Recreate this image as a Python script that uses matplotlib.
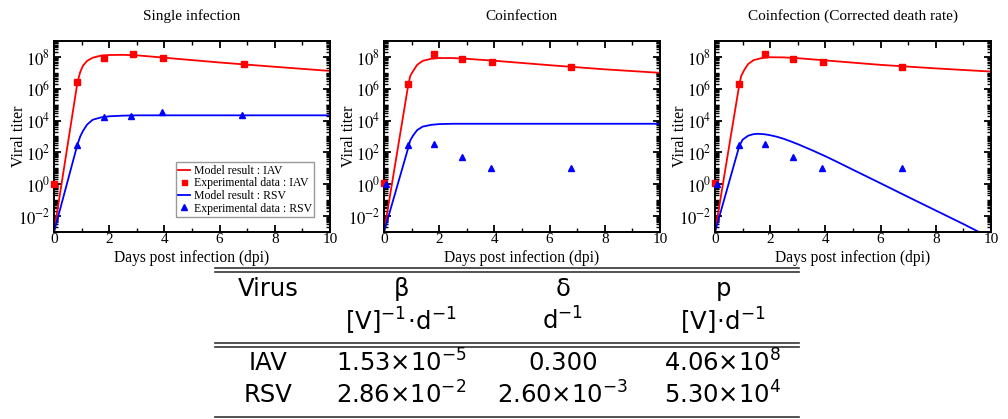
import numpy as np
import matplotlib
matplotlib.use("Agg")
import matplotlib.pyplot as plt
from matplotlib.ticker import LogLocator, FixedLocator, NullFormatter, FuncFormatter, MultipleLocator
from matplotlib.lines import Line2D

plt.rcParams['font.family'] = ['Liberation Serif', 'DejaVu Serif']
plt.rcParams['mathtext.fontset'] = 'stix'

# ---------------- data (log10 of viral titer) ----------------
titles = ["Single infection", "Coinfection", "Coinfection (Corrected death rate)"]

# Single infection
s_iav_model_t = [0, 0.85, 0.95, 1.05, 1.2, 1.4, 1.7, 2.0, 2.5, 3, 4, 6, 8, 10]
s_iav_model_log = [-3, 6.4, 7.05, 7.45, 7.75, 7.95, 8.08, 8.12, 8.13, 8.1, 7.95, 7.65, 7.38, 7.12]
s_rsv_model_t = [0, 0.85, 0.95, 1.05, 1.2, 1.4, 1.7, 2.0, 2.5, 3, 10]
s_rsv_model_log = [-3, 2.5, 3.0, 3.35, 3.75, 4.05, 4.2, 4.27, 4.31, 4.33, 4.33]
s_iav_data_t = [0, 0.85, 1.82, 2.86, 3.95, 6.88]
s_iav_data_log = [0, 6.44, 7.94, 8.21, 7.94, 7.53]
s_rsv_data_t = [0.85, 1.8, 2.8, 3.9, 6.8]
s_rsv_data_log = [2.49, 4.22, 4.30, 4.51, 4.32]

# Coinfection
c_iav_model_t = [0, 0.88, 0.95, 1.05, 1.2, 1.4, 1.7, 2.0, 2.5, 3, 4, 6, 8, 10]
c_iav_model_log = [-3, 6.25, 6.8, 7.1, 7.5, 7.75, 7.88, 7.93, 7.93, 7.88, 7.76, 7.48, 7.22, 7.0]
c_rsv_model_t = [0, 0.88, 0.95, 1.05, 1.2, 1.4, 1.7, 2.0, 2.5, 3, 10]
c_rsv_model_log = [-3, 2.3, 2.75, 3.05, 3.4, 3.62, 3.73, 3.78, 3.8, 3.8, 3.8]

# Coinfection (corrected death rate)
k_iav_model_t = [0, 0.88, 0.95, 1.05, 1.2, 1.4, 1.7, 2.0, 2.5, 3, 4, 6, 8, 10]
k_iav_model_log = [-3, 6.25, 6.8, 7.15, 7.55, 7.8, 7.93, 7.98, 7.97, 7.92, 7.78, 7.5, 7.28, 7.08]
k_rsv_model_t = [0, 0.88, 1.0, 1.2, 1.4, 1.55, 1.8, 2.0, 2.25, 2.5, 2.75, 3, 3.5, 4, 4.5, 5, 6, 7, 8, 9, 9.6]
k_rsv_model_log = [-3, 2.4, 2.8, 3.05, 3.15, 3.17, 3.14, 3.08, 2.98, 2.85, 2.69, 2.52, 2.15, 1.76, 1.34, 0.91, 0.06, -0.8, -1.65, -2.5, -3.03]

# Coinfection experimental data (both coinfection panels)
c_iav_data_t = [0.0, 0.88, 1.8, 2.81, 3.9, 6.79]
c_iav_data_log = [0.05, 6.28, 8.2, 7.85, 7.66, 7.35]
c_rsv_data_t = [0.06, 0.88, 1.8, 2.81, 3.89, 6.78]
c_rsv_data_log = [0.0, 2.44, 2.53, 1.69, 1.0, 1.0]

panels = [
    (s_iav_model_t, s_iav_model_log, s_iav_data_t, s_iav_data_log,
     s_rsv_model_t, s_rsv_model_log, s_rsv_data_t, s_rsv_data_log),
    (c_iav_model_t, c_iav_model_log, c_iav_data_t, c_iav_data_log,
     c_rsv_model_t, c_rsv_model_log, c_rsv_data_t, c_rsv_data_log),
    (k_iav_model_t, k_iav_model_log, c_iav_data_t, c_iav_data_log,
     k_rsv_model_t, k_rsv_model_log, c_rsv_data_t, c_rsv_data_log),
]

legend_labels = ["Model result : IAV", "Experimental data : IAV",
                 "Model result : RSV", "Experimental data : RSV"]

# Table
table_header = ["Virus", "β", "δ", "p"]
table_units = ["", r"$[\mathrm{V}]^{-1}\!\cdot\!\mathrm{d}^{-1}$", r"$\mathrm{d}^{-1}$",
               r"$[\mathrm{V}]\!\cdot\!\mathrm{d}^{-1}$"]
table_rows = [
    ["IAV", "1.53×10$^{-5}$", "0.300", "4.06×10$^{8}$"],
    ["RSV", "2.86×10$^{-2}$", "2.60×10$^{-3}$", "5.30×10$^{4}$"],
]

# ---------------- figure ----------------
W, H = 1008, 419
fig = plt.figure(figsize=(W / 100, H / 100), dpi=100)

lefts = [54, 384, 715]
ax_w = 276
ax_top, ax_bot = 41, 232
ax_h = ax_bot - ax_top

RED = '#ff0000'
BLUE = '#0000ff'

def fmt(v, pos):
    e = int(round(np.log10(v)))
    return r'$10^{%d}$' % e

for i, (lp, p) in enumerate(zip(lefts, panels)):
    ax = fig.add_axes([lp / W, 1 - ax_bot / H, ax_w / W, ax_h / H])
    (imt, iml, idt, idl, rmt, rml, rdt, rdl) = p
    l1, = ax.plot(imt, 10 ** np.array(iml), color=RED, lw=1.3)
    m1, = ax.plot(idt, 10 ** np.array(idl), 's', color=RED, ms=4.5, clip_on=False, zorder=3)
    l2, = ax.plot(rmt, 10 ** np.array(rml), color=BLUE, lw=1.3)
    m2, = ax.plot(rdt, 10 ** np.array(rdl), '^', color=BLUE, ms=5, clip_on=False, zorder=4)
    ax.set_yscale('log')
    ax.set_xlim(0, 10)
    ax.set_ylim(1e-3, 1e9)
    ax.yaxis.set_major_locator(FixedLocator([10.0 ** k for k in range(-2, 9, 2)]))
    ax.yaxis.set_major_formatter(FuncFormatter(fmt))
    ax.yaxis.set_minor_locator(LogLocator(base=10, subs=np.arange(1, 10), numticks=50))
    ax.yaxis.set_minor_formatter(NullFormatter())
    ax.xaxis.set_major_locator(MultipleLocator(2))
    ax.xaxis.set_minor_locator(MultipleLocator(1))
    ax.tick_params(which='both', direction='in', top=True, right=True)
    ax.tick_params(axis='x', pad=1.0, labelsize=11)
    ax.tick_params(axis='y', pad=2.5, labelsize=12)
    ax.tick_params(which='major', length=5, width=1.3)
    ax.tick_params(which='minor', length=3, width=1.0)
    for s in ax.spines.values():
        s.set_linewidth(1.4)
    ax.set_title(titles[i], fontsize=11, pad=15)
    ax.set_xlabel("Days post infection (dpi)", fontsize=11.2)
    ax.set_ylabel("Viral titer", fontsize=11.5)
    ax.xaxis.set_label_coords(0.5, -(250.5 - ax_bot) / ax_h)
    ax.yaxis.set_label_coords(-27 / ax_w, 0.5)
    if i == 0:
        leg = ax.legend([l1, m1, l2, m2], legend_labels, loc='lower right',
                        bbox_to_anchor=(0.942, 0.079), borderaxespad=0,
                        fontsize=8.5, handlelength=1.0, handletextpad=0.3,
                        labelspacing=0.05, borderpad=0.2, fancybox=False,
                        framealpha=1, edgecolor='#999999', markerscale=0.8)
        leg.get_frame().set_linewidth(1.0)

# ---------------- table ----------------
def fy(y):
    return 1 - y / H

x0, x1 = 215 / W, 799 / W
for y in [268, 272, 342.5, 347, 417]:
    fig.add_artist(Line2D([x0, x1], [fy(y), fy(y)], transform=fig.transFigure,
                          color='#333333', lw=1.2))

col_x = [268, 401, 563, 723]
tkw = dict(ha='center', va='center', fontsize=17.5, family='DejaVu Sans',
           math_fontfamily='dejavusans')
for cx, t in zip(col_x, table_header):
    fig.text(cx / W, fy(289), t, **tkw)
for cx, t in zip(col_x, table_units):
    if t:
        fig.text(cx / W, fy(321), t, **tkw)
for ry, row in zip([363, 395], table_rows):
    for cx, t in zip(col_x, row):
        fig.text(cx / W, fy(ry), t, **tkw)

fig.savefig("out.png", dpi=100)
